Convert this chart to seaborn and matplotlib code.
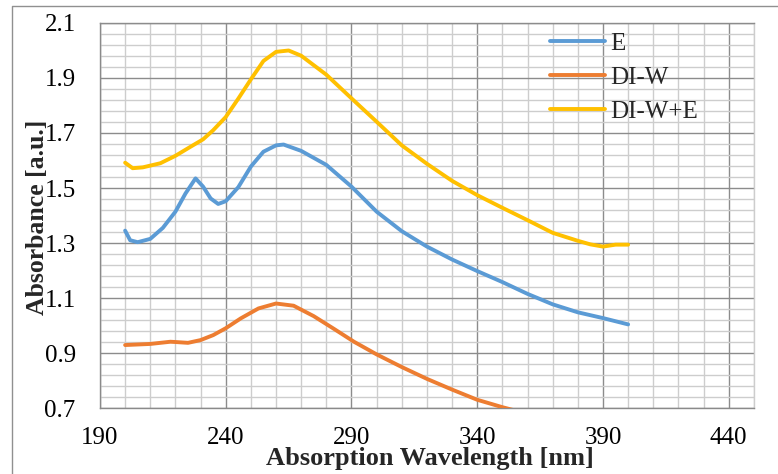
import matplotlib
matplotlib.use("Agg")
import matplotlib.pyplot as plt
from matplotlib.ticker import FormatStrFormatter
from matplotlib.lines import Line2D
import numpy as np
import pandas as pd
import seaborn as sns

# readings
wl_e = [200, 202, 205, 210, 215, 220, 224, 228, 231, 234, 237, 240, 245, 250,
        255, 260, 263, 270, 280, 290, 300, 310, 320, 330, 340, 350, 360, 370,
        380, 390, 400]
abs_e = [1.345, 1.31, 1.303, 1.315, 1.355, 1.414, 1.48, 1.535, 1.505, 1.462,
         1.442, 1.452, 1.503, 1.578, 1.632, 1.655, 1.658, 1.635, 1.584, 1.505,
         1.414, 1.343, 1.287, 1.24, 1.198, 1.158, 1.115, 1.077, 1.048, 1.027,
         1.004]

wl_w = [200, 210, 218, 220, 225, 230, 235, 240, 246, 253, 260, 267, 275, 283,
        291, 300, 310, 320, 330, 340, 350, 360]
abs_w = [0.929, 0.933, 0.941, 0.94, 0.937, 0.947, 0.965, 0.99, 1.026, 1.062,
         1.08, 1.072, 1.034, 0.988, 0.941, 0.895, 0.849, 0.806, 0.767, 0.73,
         0.703, 0.679]

wl_we = [200, 203, 207, 214, 220, 226, 231, 235, 240, 245, 250, 255, 260, 265,
         270, 280, 290, 300, 310, 320, 330, 340, 350, 360, 370, 380, 385, 390,
         395, 400]
abs_we = [1.592, 1.572, 1.575, 1.59, 1.617, 1.65, 1.677, 1.71, 1.758, 1.825,
          1.895, 1.962, 1.995, 2.0, 1.981, 1.912, 1.826, 1.741, 1.655, 1.588,
          1.526, 1.474, 1.428, 1.383, 1.337, 1.308, 1.295, 1.287, 1.294, 1.294]

series_names = ["E", "DI-W", "DI-W+E"]
series_colors = ["#5B9BD5", "#ED7D31", "#FFC000"]

x_major = [190, 240, 290, 340, 390, 440]
y_major = [0.7, 0.9, 1.1, 1.3, 1.5, 1.7, 1.9, 2.1]

df = pd.concat([
    pd.DataFrame({"wl": wl_e, "abs": abs_e, "sample": "E"}),
    pd.DataFrame({"wl": wl_w, "abs": abs_w, "sample": "DI-W"}),
    pd.DataFrame({"wl": wl_we, "abs": abs_we, "sample": "DI-W+E"}),
])

sns.set_theme(style="white")
plt.rcParams["font.family"] = ["Liberation Serif", "DejaVu Serif"]

fig = plt.figure(figsize=(7.78, 4.74), dpi=100)
ax = fig.add_axes([0.1285, 0.1392, 0.8405, 0.8123])

sns.lineplot(data=df, x="wl", y="abs", hue="sample", hue_order=series_names,
             palette=series_colors, linewidth=2.8, ax=ax, zorder=3,
             solid_joinstyle="round", solid_capstyle="round")

ax.set_xlim(190, 450)
ax.set_ylim(0.7, 2.1)
ax.set_xticks(x_major)
ax.set_xticks(np.arange(190, 451, 10), minor=True)
ax.set_yticks(y_major)
ax.set_yticks(np.round(np.arange(0.7, 2.1001, 0.04), 2), minor=True)
ax.yaxis.set_major_formatter(FormatStrFormatter("%.1f"))

ax.grid(which="major", color="#8c8c8c", linewidth=1.0)
ax.grid(which="minor", color="#cdcdcd", linewidth=1.0)
ax.set_axisbelow(True)

ax.spines["top"].set_color("#8c8c8c")
ax.spines["right"].set_color("#cdcdcd")
for side in ["left", "bottom"]:
    ax.spines[side].set_color("#8a8a8a")
for side in ax.spines:
    ax.spines[side].set_linewidth(1.0)

ax.tick_params(which="major", direction="out", color="#8a8a8a", labelsize=18,
               labelcolor="black")
ax.tick_params(axis="y", which="major", length=6.5, pad=11)
ax.tick_params(axis="x", which="major", length=4, pad=10)
ax.tick_params(which="minor", length=0)

ax.set_xlabel("Absorption Wavelength [nm]", fontsize=19, fontweight="bold")
ax.xaxis.set_label_coords(0.505, -0.102)
ax.set_ylabel("Absorbance [a.u.]", fontsize=18.5, fontweight="bold", va="center")
ax.yaxis.set_label_coords(-0.096, 0.496)

handles, labels = ax.get_legend_handles_labels()
ax.legend(handles, labels, loc="upper left", bbox_to_anchor=(0.688, 0.975),
          frameon=False, fontsize=18, borderpad=0, borderaxespad=0,
          handlelength=2.2, handletextpad=0.2, labelspacing=0.45)

# outer chart border
fig.add_artist(Line2D([12 / 778, 12 / 778, 1], [0, 1 - 6 / 474, 1 - 6 / 474],
                      color="#909090", linewidth=1.0))

fig.savefig("out.png", dpi=100)
